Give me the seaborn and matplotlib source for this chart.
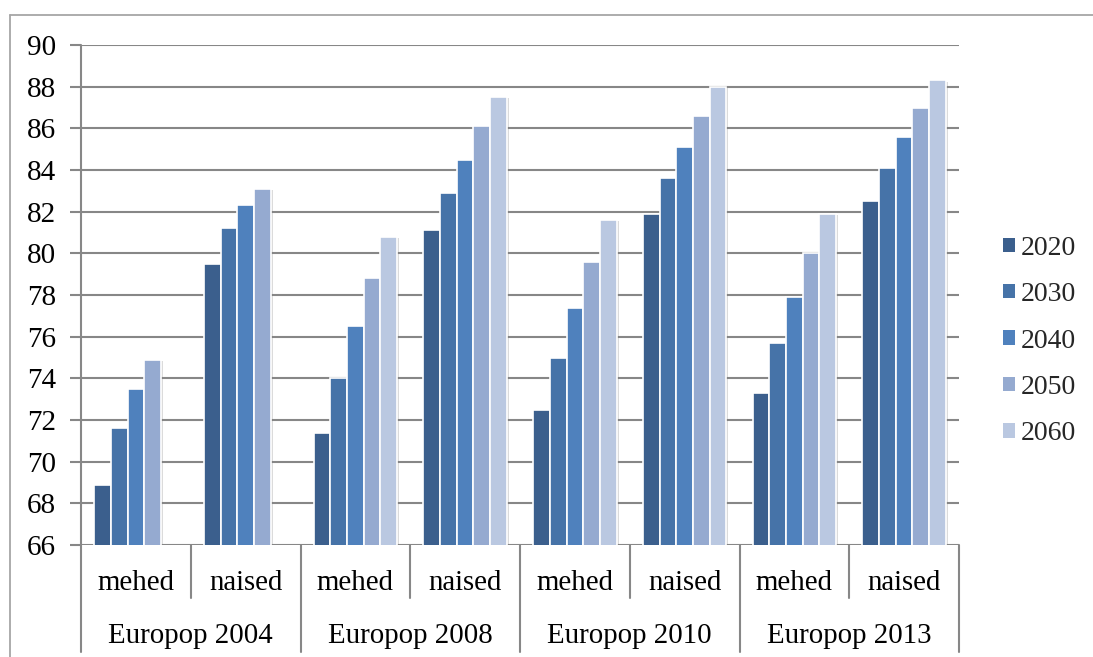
import numpy as np
import pandas as pd
import matplotlib
matplotlib.use("Agg")
import matplotlib.pyplot as plt
import matplotlib.patheffects as pe
from matplotlib.lines import Line2D
from matplotlib.patches import Patch
from matplotlib.transforms import blended_transform_factory
import seaborn as sns

# Projected life expectancy by projection edition, sex and target year
editions = ["Europop 2004", "Europop 2008", "Europop 2010", "Europop 2013"]
sexes = ["mehed", "naised"]
years = ["2020", "2030", "2040", "2050", "2060"]

v2020 = [68.9, 79.5, 71.4, 81.1, 72.5, 81.9, 73.3, 82.5]
v2030 = [71.6, 81.2, 74.0, 82.9, 75.0, 83.6, 75.7, 84.1]
v2040 = [73.5, 82.3, 76.5, 84.5, 77.4, 85.1, 77.9, 85.6]
v2050 = [74.9, 83.1, 78.8, 86.1, 79.6, 86.6, 80.0, 87.0]
v2060 = [np.nan, np.nan, 80.8, 87.5, 81.6, 88.0, 81.9, 88.3]

y_ticks = list(range(66, 91, 2))

colors = ["#3B5F8D", "#4673A8", "#4F81BD", "#95AAD0", "#BAC8E1"]
grid_gray = "#878787"
frame_gray = "#A6A6A6"

# Long-form table for seaborn
groups = [f"{ed} | {sx}" for ed in editions for sx in sexes]
series = [v2020, v2030, v2040, v2050, v2060]
rows = []
for yr, vals in zip(years, series):
    for g, v in zip(groups, vals):
        rows.append({"rühm": g, "aasta": yr, "väärtus": v})
df = pd.DataFrame(rows)

sns.set_theme(style="white")
plt.rcParams["font.family"] = ["Liberation Serif", "DejaVu Serif"]

fig = plt.figure(figsize=(10.93, 6.57), dpi=100)
W, H = 1093, 657
ax_left, ax_right, ax_top, ax_bottom = 81, 959, 45, 545
ax = fig.add_axes([ax_left / W, 1 - ax_bottom / H,
                   (ax_right - ax_left) / W, (ax_bottom - ax_top) / H])

sns.barplot(data=df, x="rühm", y="väärtus", hue="aasta", order=groups,
            hue_order=years, palette=colors, saturation=1, width=0.76,
            errorbar=None, edgecolor="white", linewidth=1.2, ax=ax,
            legend=False)

shadow = [pe.SimplePatchShadow(offset=(1.5, -1.0), shadow_rgbFace="#7F7F7F",
                               alpha=0.28), pe.Normal()]
for p in ax.patches:
    p.set_path_effects(shadow)

ax.set_xlim(-0.5, len(groups) - 0.5)
ax.set_ylim(66, 90)
ax.set_yticks(y_ticks)
ax.set_yticklabels([str(t) for t in y_ticks], fontsize=21, color="black")
ax.set_xticks([])
ax.set_xlabel("")
ax.set_ylabel("")
ax.set_axisbelow(True)
ax.yaxis.grid(True, color=grid_gray, linewidth=1.5)
ax.tick_params(axis="y", which="major", length=8, width=1.5, color=grid_gray,
               direction="out", pad=10, left=True)
for s in ax.spines.values():
    s.set_visible(False)

# Left axis line running down through the category label rows
trans = blended_transform_factory(ax.transData, ax.transAxes)
span = ax_bottom - ax_top
y_short = -(598 - ax_bottom) / span
y_long = -(652 - ax_bottom) / span
ax.add_line(Line2D([-0.5, -0.5], [1.0, y_long], transform=trans,
                   color=grid_gray, lw=1.5, clip_on=False))

# Category dividers: short between sexes, long between editions
n = len(groups)
for k in range(1, n + 1):
    xb = k - 0.5
    y_end = y_long if k % 2 == 0 else y_short
    ax.add_line(Line2D([xb, xb], [0.0, y_end], transform=trans,
                       color=grid_gray, lw=1.5, clip_on=False))

# Two-level category labels
y_sex = -(590 - ax_bottom) / span
y_ed = -(643 - ax_bottom) / span
for i, g in enumerate(groups):
    ax.text(i, y_sex, sexes[i % 2], transform=trans, ha="center",
            va="baseline", fontsize=20.8, color="black")
for j, ed in enumerate(editions):
    ax.text(2 * j + 0.5, y_ed, ed, transform=trans, ha="center",
            va="baseline", fontsize=20.8, color="black")

# Legend
handles = [Patch(facecolor=c, edgecolor="none") for c in colors]
fig.legend(handles, years, loc="center left",
           bbox_to_anchor=(992 / W, 1 - 341 / H), frameon=False,
           fontsize=20, handlelength=0.42, handleheight=0.42,
           handletextpad=0.22, labelspacing=0.77, borderaxespad=0)

# Outer chart frame (top and left edges)
fig.add_artist(Line2D([10 / W, 1.0], [1 - 15 / H, 1 - 15 / H],
                      transform=fig.transFigure, color=frame_gray, lw=1.3))
fig.add_artist(Line2D([10 / W, 10 / W], [1 - 15 / H, 0.0],
                      transform=fig.transFigure, color=frame_gray, lw=1.3))

fig.savefig("out.png", dpi=100, facecolor="white")
